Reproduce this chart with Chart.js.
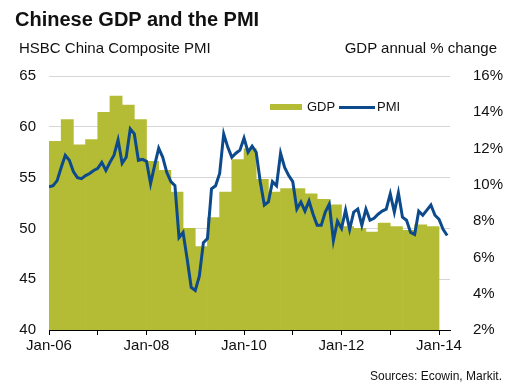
<!DOCTYPE html>
<html>
<head>
<meta charset="utf-8">
<script src="https://cdn.jsdelivr.net/npm/chart.js@4.4.1/dist/chart.umd.min.js"></script>
<style>
  html, body { margin: 0; padding: 0; background: #fff; }
  #wrap { position: relative; width: 512px; height: 389px; font-family: Arial, "Liberation Sans", sans-serif; color: #111; }
  #wrap canvas { position: absolute; left: 0; top: 0; }
  .txt { position: absolute; white-space: nowrap; }
  #title { left: 15px; top: 8px; font-size: 20px; font-weight: bold; }
  #subL { left: 19px; top: 39px; font-size: 15px; }
  #subR { right: 15px; top: 39px; font-size: 15px; }
  #source { right: 10px; top: 369px; font-size: 12px; }
  .legbox { position: absolute; left: 270px; top: 104px; width: 32px; height: 6px; background: #B4BC36; }
  .legline { position: absolute; left: 339px; top: 106px; width: 36px; height: 3px; background: #0D4A8C; }
  #legGdp { left: 307px; top: 99px; font-size: 13px; }
  #legPmi { left: 377px; top: 99px; font-size: 13px; }
</style>
</head>
<body>
<div id="wrap">
  <canvas id="chart" width="512" height="389"></canvas>
  <div class="txt" id="title">Chinese GDP and the PMI</div>
  <div class="txt" id="subL">HSBC China Composite PMI</div>
  <div class="txt" id="subR">GDP annual % change</div>
  <div class="legbox"></div>
  <div class="txt" id="legGdp">GDP</div>
  <div class="legline"></div>
  <div class="txt" id="legPmi">PMI</div>
  <div class="txt" id="source">Sources: Ecowin, Markit.</div>
</div>
<script>
// x axis is in months counted from Jan-06
var yearLabels = ["Jan-06", "Jan-08", "Jan-10", "Jan-12", "Jan-14"];

// GDP annual % change, quarterly, 2006 Q1 .. 2013 Q4
var gdp = [
  12.4, 13.6, 12.2, 12.5,
  14.0, 14.9, 14.4, 13.6,
  11.3, 10.8, 9.6, 7.6,
  6.6, 8.2, 9.6, 11.4,
  12.0, 10.3, 9.6, 9.8,
  9.8, 9.5, 9.2, 8.9,
  7.7, 7.6, 7.4, 7.9,
  7.7, 7.5, 7.8, 7.7
];

// HSBC China Composite PMI, monthly from Jan-06
var pmi = [
  54.1, 54.2, 54.7, 56.0, 57.2, 56.7, 55.6, 55.0, 54.9, 55.2, 55.4, 55.7,
  55.9, 56.5, 55.7, 56.5, 57.2, 58.7, 56.4, 57.0, 59.8, 59.3, 56.7, 56.8,
  56.6, 54.4, 56.2, 57.9, 57.0, 55.5, 54.6, 54.2, 49.1, 49.6, 47.0, 44.2,
  43.9, 45.3, 48.6, 49.0, 53.9, 54.2, 55.4, 59.3, 58.0, 57.0, 57.4, 57.7,
  58.9, 57.5, 58.1, 57.5, 54.6, 52.3, 52.6, 54.6, 54.2, 57.4, 56.0, 55.2,
  54.6, 51.9, 52.6, 51.7, 52.7, 51.4, 50.3, 50.3, 51.6, 52.4, 48.8, 50.7,
  50.0, 51.8, 49.9, 51.6, 51.9, 50.3, 51.9, 50.8, 51.0, 51.4, 51.7, 51.9,
  53.4, 51.6, 53.5, 51.1, 50.8, 49.6, 49.4, 51.7, 51.3, 51.8, 52.3, 51.3,
  50.9, 49.9, 49.3
];

var gdpPoints = gdp.map(function (v, q) { return { x: q * 3 + 1.5, y: v }; });
var pmiPoints = pmi.map(function (v, m) { return { x: m, y: v }; });

var tickFont = { family: "Arial, 'Liberation Sans', sans-serif", size: 15 };

new Chart(document.getElementById("chart"), {
  type: 'line',
  data: {
    datasets: [{
      type: 'line',
      label: 'PMI',
      data: pmiPoints,
      yAxisID: 'y',
      borderColor: '#0D4A8C',
      borderWidth: 3,
      pointRadius: 0,
      tension: 0,
      order: 0
    }, {
      type: 'bar',
      label: 'GDP',
      data: gdpPoints,
      yAxisID: 'y1',
      backgroundColor: '#B4BC36',
      borderWidth: 0,
      barPercentage: 1,
      categoryPercentage: 1,
      order: 1
    }]
  },
  options: {
    responsive: false,
    animation: false,
    events: [],
    layout: { padding: { top: 76, left: 0, right: 0, bottom: 0 } },
    plugins: { legend: { display: false }, tooltip: { enabled: false } },
    scales: {
      x: {
        type: 'linear',
        min: 0,
        max: 98.7,
        offset: false,
        afterFit: function (s) { s.height = 59; },
        border: { display: true, color: '#000', width: 1 },
        grid: { display: true, drawOnChartArea: false, drawTicks: true, tickLength: 5, color: '#000', offset: false },
        ticks: {
          stepSize: 12,
          autoSkip: false,
          includeBounds: false,
          maxRotation: 0,
          padding: 2,
          color: '#111',
          font: tickFont,
          callback: function (v) {
            return v % 24 === 0 ? yearLabels[v / 24] : '';
          }
        }
      },
      y: {
        position: 'left',
        min: 40,
        max: 65,
        afterFit: function (s) { s.width = 49; },
        border: { display: false },
        grid: {
          drawTicks: false,
          color: function (c) { return c.tick.value === 40 ? 'rgba(0,0,0,0)' : '#D6D6D6'; }
        },
        ticks: { stepSize: 5, padding: 13, color: '#111', font: tickFont }
      },
      y1: {
        position: 'right',
        min: 2,
        max: 16,
        afterFit: function (s) { s.width = 62; },
        border: { display: false },
        grid: { display: false, drawOnChartArea: false },
        ticks: {
          stepSize: 2,
          padding: 15,
          color: '#111',
          font: tickFont,
          callback: function (v) { return v + '%'; }
        }
      }
    }
  }
});
</script>
</body>
</html>
